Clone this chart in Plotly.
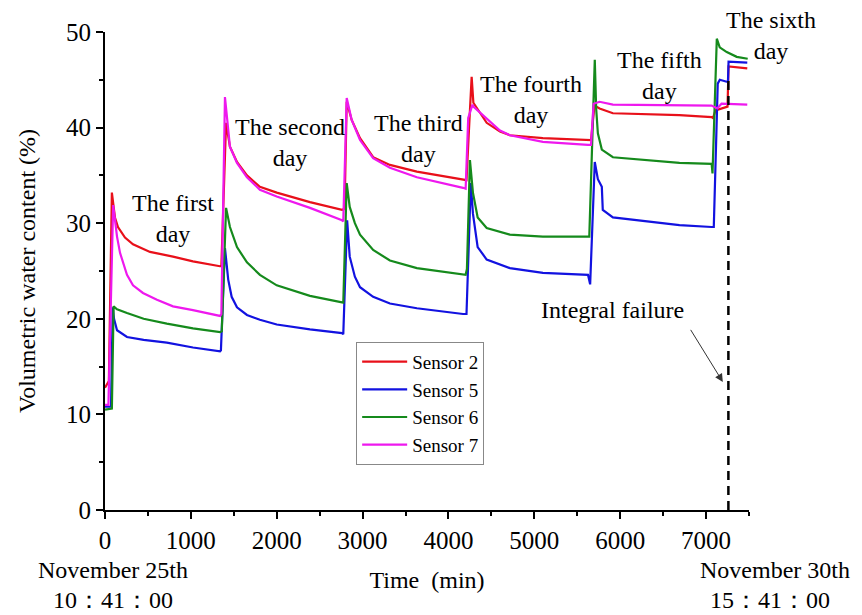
import plotly.graph_objects as go

# Volumetric water content readings (time in minutes, value in %)
t_s2 = [0, 45, 80, 116, 151, 233, 326, 524, 792, 1024, 1339,
        1355, 1410, 1455, 1537, 1653, 1804, 2000, 2387, 2760,
        2790, 2815, 2873, 2970, 3123, 3318, 3632, 4170, 4210,
        4240, 4270, 4290, 4445, 4600, 4715, 5100, 5625, 5660,
        5700, 5760, 5915, 6690, 7065, 7080,
        7110, 7250, 7262, 7480]
v_s2 = [12.8, 13.5, 33.2, 30.6, 29.6, 28.5, 27.8, 27.0, 26.5, 26.0, 25.5,
        25.5, 40.5, 38.0, 36.4, 35.0, 33.8, 33.2, 32.2, 31.4,
        31.5, 42.7, 40.8, 38.9, 36.9, 36.1, 35.4, 34.6, 34.5,
        40.0, 45.3, 42.6, 40.5, 39.6, 39.2, 38.9, 38.7, 38.7,
        42.3, 42.0, 41.5, 41.3, 41.1, 41.0,
        41.8, 42.2, 46.4, 46.2]

t_s5 = [0, 70, 90, 105, 140, 256, 450, 720, 1025, 1340, 1350,
        1397, 1435, 1475, 1537, 1653, 1804, 2000, 2387, 2760, 2775,
        2820, 2850, 2910, 2970, 3123, 3318, 3632, 4170, 4210,
        4260, 4285, 4340, 4445, 4715, 5100, 5625, 5650,
        5704, 5740, 5786, 5797, 5915, 6690, 7065, 7090,
        7136, 7160, 7240, 7255, 7262, 7480]
v_s5 = [10.8, 10.8, 21.2, 20.0, 18.8, 18.1, 17.8, 17.5, 17.0, 16.6, 16.7,
        27.4, 24.1, 22.3, 21.2, 20.4, 19.9, 19.4, 18.9, 18.5, 18.4,
        30.3, 26.5, 24.4, 23.3, 22.3, 21.6, 21.1, 20.5, 20.5,
        34.2, 31.0, 27.5, 26.2, 25.3, 24.8, 24.6, 23.6,
        36.4, 34.6, 33.8, 31.4, 30.6, 29.8, 29.6, 29.6,
        44.6, 45.0, 44.8, 44.8, 46.9, 46.8]

t_s6 = [0, 80, 100, 140, 256, 450, 720, 1025, 1340, 1360,
        1410, 1455, 1537, 1653, 1804, 2000, 2387, 2760, 2775,
        2815, 2850, 2910, 2970, 3123, 3318, 3632, 4170, 4200, 4215,
        4250, 4285, 4340, 4445, 4715, 5100, 5640,
        5704, 5720, 5740, 5786, 5915, 6690, 7065, 7075,
        7125, 7159, 7241, 7357, 7485]
v_s6 = [10.5, 10.6, 21.3, 21.0, 20.6, 20.0, 19.5, 19.0, 18.6, 18.7,
        31.6, 29.6, 27.5, 25.9, 24.6, 23.5, 22.4, 21.7, 21.7,
        34.2, 31.7, 30.0, 28.8, 27.2, 26.1, 25.3, 24.6, 24.6, 25.2,
        36.6, 33.2, 30.6, 29.5, 28.8, 28.6, 28.6,
        47.1, 42.0, 39.4, 37.7, 36.9, 36.3, 36.2, 35.2,
        49.3, 48.4, 47.9, 47.4, 47.2]

t_s7 = [0, 40, 95, 140, 175, 256, 326, 442, 605, 792, 1024, 1339, 1355,
        1397, 1455, 1537, 1653, 1804, 2000, 2387, 2760, 2775,
        2815, 2873, 2970, 3123, 3318, 3632, 4170, 4200,
        4230, 4280, 4290, 4400, 4600, 4715, 5100, 5625, 5660,
        5690, 5760, 5915, 6690, 7065, 7130, 7180, 7480]
v_s7 = [11.0, 11.0, 31.9, 28.6, 26.9, 24.6, 23.5, 22.7, 22.0, 21.3, 20.9, 20.3, 20.5,
        43.2, 38.0, 36.3, 34.8, 33.5, 32.8, 31.6, 30.3, 30.2,
        43.1, 40.8, 38.7, 36.8, 35.8, 34.8, 33.7, 33.6,
        41.0, 42.4, 42.2, 41.3, 39.7, 39.2, 38.5, 38.2, 38.2,
        42.5, 42.7, 42.4, 42.3, 42.3, 42.0, 42.5, 42.4]

series_names = ["Sensor 2", "Sensor 5", "Sensor 6", "Sensor 7"]
series_colors = ["#e8101a", "#1212e0", "#158a1c", "#ee18ee"]

# Day labels: (x, y) in data units, text
day_label_x = [792, 2150, 3655, 4960, 6460]
day_label_y = [30.5, 38.4, 38.9, 42.9, 45.5]
day_label_text = ["The first<br>day", "The second<br>day", "The third<br>day",
                  "The fourth<br>day", "The fifth<br>day"]
# the last day sits past the end of the time axis, so it uses paper units
sixth_day_pos = (1.034, 0.992)
sixth_day_text = "The sixth<br>day"

failure_time = 7260
failure_top = 45.0

FONT = "Liberation Serif, Times New Roman, serif"
TXT = dict(family=FONT, size=24, color="black")

fig = go.Figure()
for name, color, t, v in zip(series_names, series_colors,
                             [t_s2, t_s5, t_s6, t_s7],
                             [v_s2, v_s5, v_s6, v_s7]):
    fig.add_trace(go.Scatter(x=t, y=v, mode="lines", name=name,
                             line=dict(color=color, width=2.2)))

# Integral failure marker
fig.add_shape(type="line", xref="x", yref="y",
              x0=failure_time, x1=failure_time, y0=0, y1=failure_top,
              line=dict(color="black", width=2.5, dash="9px,6px"),
              layer="above")

for x, y, txt in zip(day_label_x, day_label_y, day_label_text):
    fig.add_annotation(x=x, y=y, xref="x", yref="y", text=txt,
                       showarrow=False, align="center", font=TXT)
fig.add_annotation(x=sixth_day_pos[0], y=sixth_day_pos[1],
                   xref="paper", yref="paper", text=sixth_day_text,
                   showarrow=False, align="center", xanchor="center",
                   yanchor="middle", font=TXT)

fig.add_annotation(x=5914, y=20.9, xref="x", yref="y",
                   text="Integral failure", showarrow=False, font=TXT)
fig.add_annotation(x=7195, y=13.4, ax=6810, ay=19.0,
                   xref="x", yref="y", axref="x", ayref="y",
                   text="", showarrow=True, arrowhead=2, arrowsize=1.6,
                   arrowwidth=1, arrowcolor="#333333")

# Start/end timestamps under the axis
for x1, x2, line1, line2 in [(0.012, 0.012, "November 25th", "10：41：00"),
                             (1.040, 1.032, "November 30th", "15：41：00")]:
    fig.add_annotation(x=x1, y=-0.125, xref="paper", yref="paper",
                       text=line1, showarrow=False, xanchor="center",
                       yanchor="middle", font=TXT)
    fig.add_annotation(x=x2, y=-0.188, xref="paper", yref="paper",
                       text=line2, showarrow=False, xanchor="center",
                       yanchor="middle", font=TXT)

axis_common = dict(showline=True, linecolor="black", linewidth=2,
                   ticks="outside", tickcolor="black", tickwidth=2, ticklen=7,
                   showgrid=False, zeroline=False, mirror=False,
                   tickfont=dict(family=FONT, size=25, color="black"))

fig.update_xaxes(range=[0, 7500], tick0=0, dtick=1000,
                 minor=dict(ticks="outside", dtick=500, ticklen=4,
                            tickwidth=2, tickcolor="black"),
                 title=dict(text="Time\u00a0 (min)", standoff=18, font=TXT),
                 **axis_common)
fig.update_yaxes(range=[0, 50], tick0=0, dtick=10,
                 minor=dict(ticks="outside", dtick=5, ticklen=4,
                            tickwidth=2, tickcolor="black"),
                 title=dict(text="Volumetric water content (%)", standoff=24,
                            font=TXT),
                 **axis_common)

fig.update_layout(
    width=862, height=615,
    margin=dict(l=105, r=113, t=32, b=105),
    paper_bgcolor="white", plot_bgcolor="white",
    font=dict(family=FONT, color="black"),
    legend=dict(x=0.39, y=0.352, xanchor="left", yanchor="top",
                bgcolor="white", bordercolor="#888888", borderwidth=1,
                font=dict(family=FONT, size=19, color="black"),
                tracegroupgap=0, itemwidth=45),
    showlegend=True,
)

fig.write_html("out.html")
